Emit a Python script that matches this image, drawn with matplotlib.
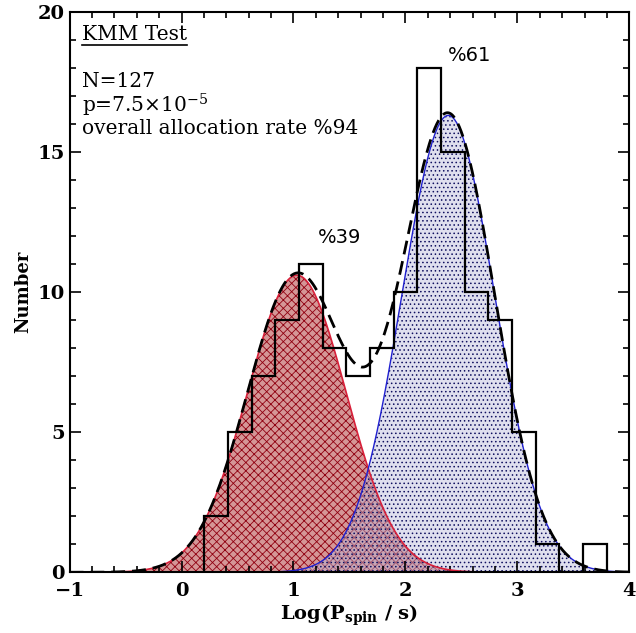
import numpy as np
import matplotlib
matplotlib.use('Agg')
import matplotlib.pyplot as plt
from matplotlib.ticker import MultipleLocator

# histogram of log spin periods (counts per bin)
bin_edges = np.linspace(0.203, 3.798, 18)
counts = [2, 5, 7, 9, 11, 8, 7, 8, 10, 18, 15, 10, 9, 5, 1, 0, 1]

# KMM gaussian components: amplitude, mean, sigma
red_amp, red_mu, red_sig = 10.6, 1.03, 0.44
blue_amp, blue_mu, blue_sig = 16.3, 2.383, 0.415

labels = ['KMM Test', 'N=127', r'p=7.5$\times$10$^{-5}$', 'overall allocation rate %94']
pct_red, pct_blue = '%39', '%61'

plt.rcParams['mathtext.fontset'] = 'dejavuserif'
plt.rcParams['hatch.linewidth'] = 0.6

fig = plt.figure(figsize=(6.36, 6.33), dpi=100)
ax = fig.add_axes([0.1094, 0.0959, 0.8801, 0.8856])

x = np.linspace(-1, 4, 600)
g_red = red_amp * np.exp(-(x - red_mu)**2 / (2 * red_sig**2))
g_blue = blue_amp * np.exp(-(x - blue_mu)**2 / (2 * blue_sig**2))

ax.fill_between(x, g_red, facecolor=(0.78, 0.45, 0.45, 0.75), edgecolor='#900010',
                hatch='xxxx', linewidth=0, zorder=1)
ax.fill_between(x, g_blue, facecolor=(0.72, 0.72, 0.86, 0.45), edgecolor='#101060',
                hatch='....', linewidth=0, zorder=1)
ax.plot(x, g_red, color='#d8203a', lw=1.2, zorder=2)
ax.plot(x, g_blue, color='#2020d0', lw=1.0, zorder=2)

ax.stairs(counts, bin_edges, color='black', lw=1.6, baseline=0, zorder=3)
ax.plot(x, g_red + g_blue, color='black', lw=2.0, ls=(0, (5, 2.5)), zorder=4)

ax.set_xlim(-1, 4)
ax.set_ylim(0, 20)
ax.xaxis.set_major_locator(MultipleLocator(1))
ax.xaxis.set_minor_locator(MultipleLocator(0.2))
ax.yaxis.set_major_locator(MultipleLocator(5))
ax.yaxis.set_minor_locator(MultipleLocator(1))
ax.tick_params(which='both', direction='in', top=True, right=True, width=1.2)
ax.tick_params(which='major', length=8)
ax.tick_params(which='minor', length=4)
ax.tick_params(axis='x', pad=7)
for s in ax.spines.values():
    s.set_linewidth(1.5)
for lab in ax.get_xticklabels() + ax.get_yticklabels():
    lab.set_family('DejaVu Serif')
    lab.set_fontweight('bold')
    lab.set_fontsize(14)

ax.set_xlabel(r'Log(P$_{\mathbf{spin}}$ / s)', family='DejaVu Serif', fontweight='bold', fontsize=14,
              labelpad=2)
ax.set_ylabel('Number', family='DejaVu Serif', fontweight='bold', fontsize=13)

ys = [18.99, 17.31, 16.42, 15.64]
txts = []
for lab, yy in zip(labels, ys):
    txts.append(ax.text(-0.889, yy, lab, family='DejaVu Serif', fontsize=14.5, va='baseline'))

ax.text(1.415, 11.93, pct_red, fontsize=14, ha='center', va='center')
ax.text(2.57, 18.45, pct_blue, fontsize=14, ha='center', va='center')

# underline the title text
fig.canvas.draw()
bb = txts[0].get_window_extent().transformed(ax.transData.inverted())
ax.plot([bb.x0, bb.x1], [bb.y0 - 0.05, bb.y0 - 0.05], color='black', lw=1.2)

fig.savefig('out.png', dpi=100)
